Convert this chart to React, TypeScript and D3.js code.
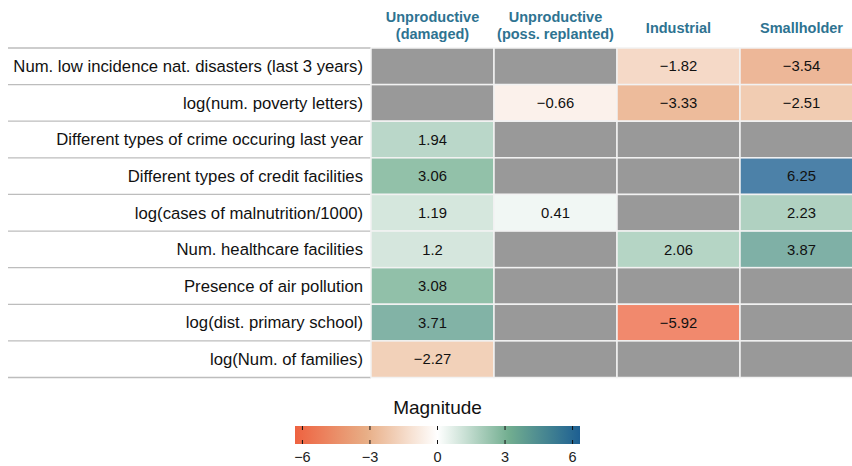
import React from "react";
import * as d3 from "d3";

const rowLabels = [
  "Num. low incidence nat. disasters (last 3 years)",
  "log(num. poverty letters)",
  "Different types of crime occuring last year",
  "Different types of credit facilities",
  "log(cases of malnutrition/1000)",
  "Num. healthcare facilities",
  "Presence of air pollution",
  "log(dist. primary school)",
  "log(Num. of families)",
];

const columnLabels = [
  ["Unproductive", "(damaged)"],
  ["Unproductive", "(poss. replanted)"],
  ["Industrial"],
  ["Smallholder"],
];

const colUnproductiveDamaged = [null, null, 1.94, 3.06, 1.19, 1.2, 3.08, 3.71, -2.27];
const colUnproductiveReplanted = [null, -0.66, null, null, 0.41, null, null, null, null];
const colIndustrial = [-1.82, -3.33, null, null, null, 2.06, null, -5.92, null];
const colSmallholder = [-3.54, -2.51, null, 6.25, 2.23, 3.87, null, null, null];

const legendTicks = [-6, -3, 0, 3, 6];
const legendTitle = "Magnitude";

const columns = [colUnproductiveDamaged, colUnproductiveReplanted, colIndustrial, colSmallholder];

const fmt = (v: number) => (v < 0 ? "\u2212" + String(Math.abs(v)) : String(v));

export default function App() {
  const W = 852;
  const H = 466;
  const lim = 6.33;
  const color = d3
    .scaleLinear<string>()
    .domain([-lim, -lim / 2, 0, lim / 2, lim])
    .range(["#EE6240", "#E8AE86", "#FFFFFF", "#72AE90", "#1D5F92"])
    .interpolate(d3.interpolateRgb)
    .clamp(true);

  const colIdx = columnLabels.map((_, i) => String(i));
  const x = d3.scaleBand().domain(colIdx).range([371, 371 + 4 * 123]).padding(0);
  const y = d3.scaleBand().domain(rowLabels).range([48, 377.5]).padding(0);

  const lx = d3.scaleLinear().domain([-lim, lim]).range([295, 580]);
  const gradStops = d3.range(0, 21).map((i) => -lim + (2 * lim * i) / 20);

  const font = "'Liberation Sans', Arial, Helvetica, sans-serif";
  const headColor = "#2E7391";

  const lineYs = [...rowLabels.map((r) => y(r)!), y.range()[1]];

  return (
    <svg
      width={W}
      height={H}
      style={{ position: "absolute", left: 0, top: 0, fontFamily: font }}
    >
      <defs>
        <linearGradient id="lg" x1="0" x2="1" y1="0" y2="0">
          {gradStops.map((v, i) => (
            <stop key={i} offset={i / 20} stopColor={color(v)} />
          ))}
        </linearGradient>
      </defs>
      {lineYs.map((ly, i) => (
        <line key={i} x1={8} x2={371} y1={ly} y2={ly} stroke="#BDBDBD" strokeWidth={1.3} />
      ))}
      {rowLabels.map((r) => (
        <text
          key={r}
          x={363}
          y={y(r)! + y.bandwidth() / 2}
          dy="0.35em"
          textAnchor="end"
          fontSize={16.7}
          fill="#111"
        >
          {r}
        </text>
      ))}
      {columnLabels.map((lines, i) => {
        const cx = x(String(i))! + x.bandwidth() / 2;
        const ys = lines.length === 2 ? [22, 38.5] : [32.5];
        return (
          <text key={i} textAnchor="middle" fontSize={14.5} fontWeight="bold" fill={headColor}>
            {lines.map((l, j) => (
              <tspan key={j} x={cx} y={ys[j]}>
                {l}
              </tspan>
            ))}
          </text>
        );
      })}
      {columns.map((vals, ci) =>
        vals.map((v, ri) => {
          const cx = x(String(ci))!;
          const cy = y(rowLabels[ri])!;
          const fill =
            v === null
              ? "#999999"
              : (() => {
                  const c = d3.rgb(color(v));
                  const a = 0.8;
                  return d3
                    .rgb(c.r * a + 255 * (1 - a), c.g * a + 255 * (1 - a), c.b * a + 255 * (1 - a))
                    .formatHex();
                })();
          return (
            <g key={ci + "-" + ri}>
              <rect
                x={cx}
                y={cy}
                width={x.bandwidth()}
                height={y.bandwidth()}
                fill={fill}
                stroke="#F2F2F2"
                strokeWidth={1.5}
              />
              {v !== null && (
                <text
                  x={cx + x.bandwidth() / 2}
                  y={cy + y.bandwidth() / 2}
                  dy="0.35em"
                  textAnchor="middle"
                  fontSize={14.8}
                  fill="#111"
                >
                  {fmt(v)}
                </text>
              )}
            </g>
          );
        })
      )}
      <text x={lx(0)} y={414} textAnchor="middle" fontSize={19} fill="#111">
        {legendTitle}
      </text>
      <rect x={lx(-lim)} y={426} width={lx(lim) - lx(-lim)} height={18} fill="url(#lg)" />
      {legendTicks.map((t) => (
        <g key={t}>
          <line x1={lx(t)} x2={lx(t)} y1={426} y2={430} stroke="#111" strokeWidth={1} />
          <line x1={lx(t)} x2={lx(t)} y1={440} y2={444} stroke="#111" strokeWidth={1} />
          <text x={lx(t)} y={462} textAnchor="middle" fontSize={14.5} fill="#222">
            {fmt(t)}
          </text>
        </g>
      ))}
    </svg>
  );
}
